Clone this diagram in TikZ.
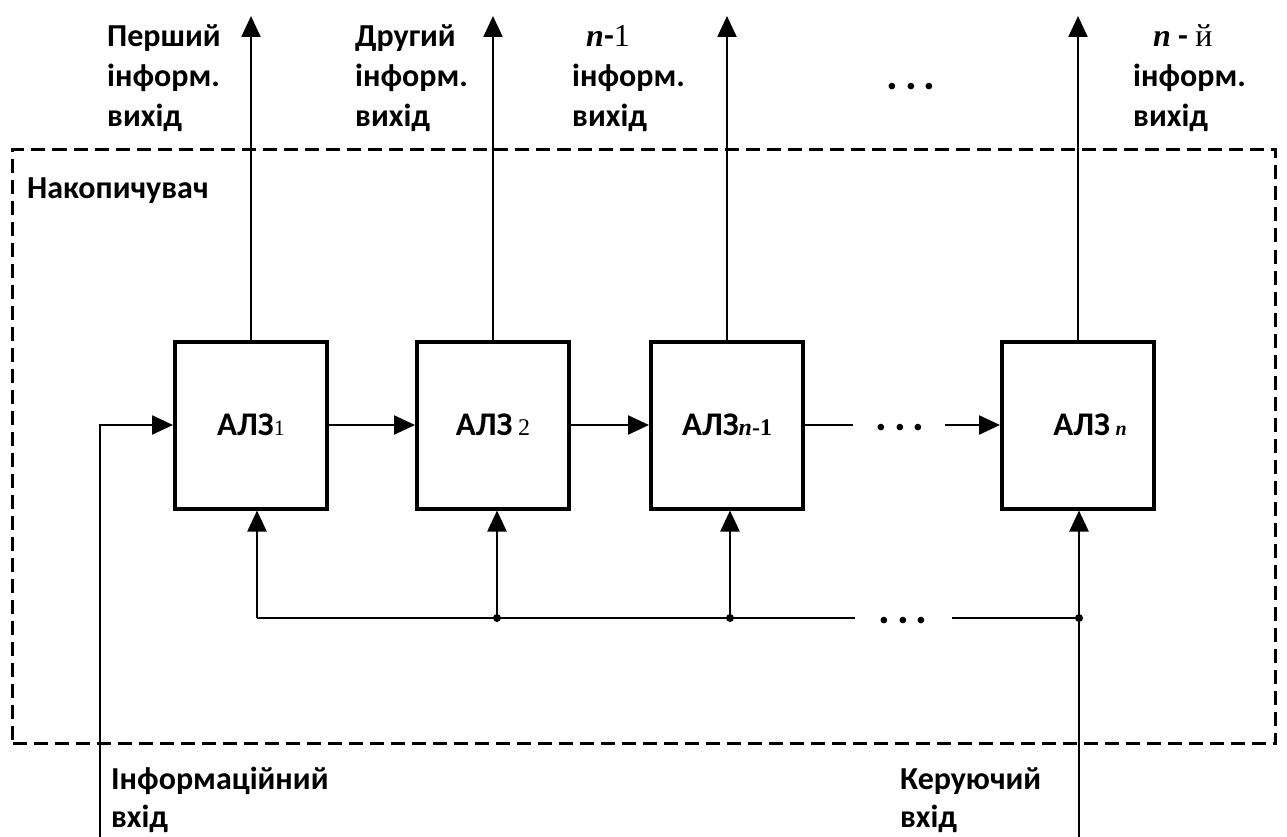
\documentclass[tikz,border=0pt]{standalone}
\usepackage{fontspec}
\setmainfont{Carlito}
\newfontfamily\serif{Liberation Serif}
\usetikzlibrary{arrows.meta}
\newcommand{\nit}{{\serif\bfseries\itshape n}}
\begin{document}
\begin{tikzpicture}[x=1pt,y=-1pt,
  blk/.style={draw, line width=4pt, minimum width=152pt, minimum height=167pt, inner sep=0pt,
    font=\bfseries\fontsize{33}{38}\selectfont},
  wire/.style={line width=2.4pt},
  conn/.style={wire, -{Triangle[length=21pt,width=19pt]}},
  lbl/.style={align=left, inner sep=0pt, anchor=base west, font=\bfseries\fontsize{32}{40}\selectfont},
  dots/.style={inner sep=0pt, anchor=base, font=\bfseries\fontsize{44}{44}\selectfont},
  jdot/.style={circle, fill, inner sep=0pt, minimum size=8pt}]
\useasboundingbox (0,0) rectangle (1287,837);

% accumulator frame
\node[draw, dashed, dash pattern=on 14pt off 7pt, line width=2.6pt, minimum width=1263pt,
  minimum height=594pt, inner sep=0pt] (acc) at (644,446.5) {};
\node[lbl] (acclbl) at (27,199) {Накопичувач};

% blocks
\node[blk] (b1) at (251,425) {АЛЗ{\serif\fontsize{22}{22}\selectfont\mdseries 1}};
\node[blk] (b2) at (493,425) {АЛЗ\,{\serif\fontsize{24}{24}\selectfont\mdseries 2}};
\node[blk] (b3) at (727,425) {АЛЗ{\fontsize{24}{24}\selectfont\nit{\serif\bfseries -1}}};
\node[blk] (b4) at (1078,425) {\hspace*{24pt}АЛЗ\,{\fontsize{20}{20}\selectfont\nit}};

% outputs
\coordinate (o1) at (251,16);
\coordinate (o2) at (493,16);
\coordinate (o3) at (727,16);
\coordinate (o4) at (1078,16);
\draw[conn] (b1.north) -- (o1);
\draw[conn] (b2.north) -- (o2);
\draw[conn] (b3.north) -- (o3);
\draw[conn] (b4.north) -- (o4);

\node[lbl] (t1) at (107,127) {Перший\\інформ.\\вихід};
\node[lbl] (t2) at (355,127) {Другий\\інформ.\\вихід};
\node[lbl] (t3) at (572,127) {\hspace*{14pt}\nit-{\serif\mdseries 1}\\інформ.\\вихід};
\node[dots] (tdots) at (911,90) {.\kern7pt.\kern7pt.};
\node[lbl] (t4) at (1133,127) {\hspace*{20pt}\nit\ - {\serif\mdseries й}\\інформ.\\вихід};

% chain
\draw[conn] (b1.east) -- (b2.west);
\draw[conn] (b2.east) -- (b3.west);
\coordinate (c3) at (853,425);
\coordinate (c4) at (945,425);
\draw[wire] (b3.east) -- (c3);
\node[dots] (cdots) at (900,430) {.\kern7pt.\kern7pt.};
\draw[conn] (c4) -- (b4.west);

% control bus
\coordinate (s1) at (257,618);
\coordinate (s2) at (497,618);
\coordinate (s3) at (730,618);
\coordinate (s4) at (1079,618);
\coordinate (se) at (855,618);
\coordinate (sb) at (952,618);
\node[dots] (sdots) at (903,623) {.\kern7pt.\kern7pt.};
\draw[wire] (s1) -- (se);
\draw[wire] (sb) -- (s4);
\draw[conn] (s1) -- (s1 |- b1.south);
\draw[conn] (s2) -- (s2 |- b2.south);
\draw[conn] (s3) -- (s3 |- b3.south);
\coordinate (cin) at (1079,837);
\draw[conn] (cin) -- (cin |- b4.south);
\node[jdot] (j2) at (s2) {};
\node[jdot] (j3) at (s3) {};
\node[jdot] (j4) at (s4) {};

% information input
\coordinate (iin) at (100,837);
\draw[conn] (iin) |- (b1.west);

\node[lbl, font=\bfseries\fontsize{32}{38}\selectfont] (in1) at (111,827) {Інформаційний\\вхід};
\node[lbl, font=\bfseries\fontsize{32}{38}\selectfont] (in2) at (900,827) {Керуючий\\вхід};
\end{tikzpicture}
\end{document}
